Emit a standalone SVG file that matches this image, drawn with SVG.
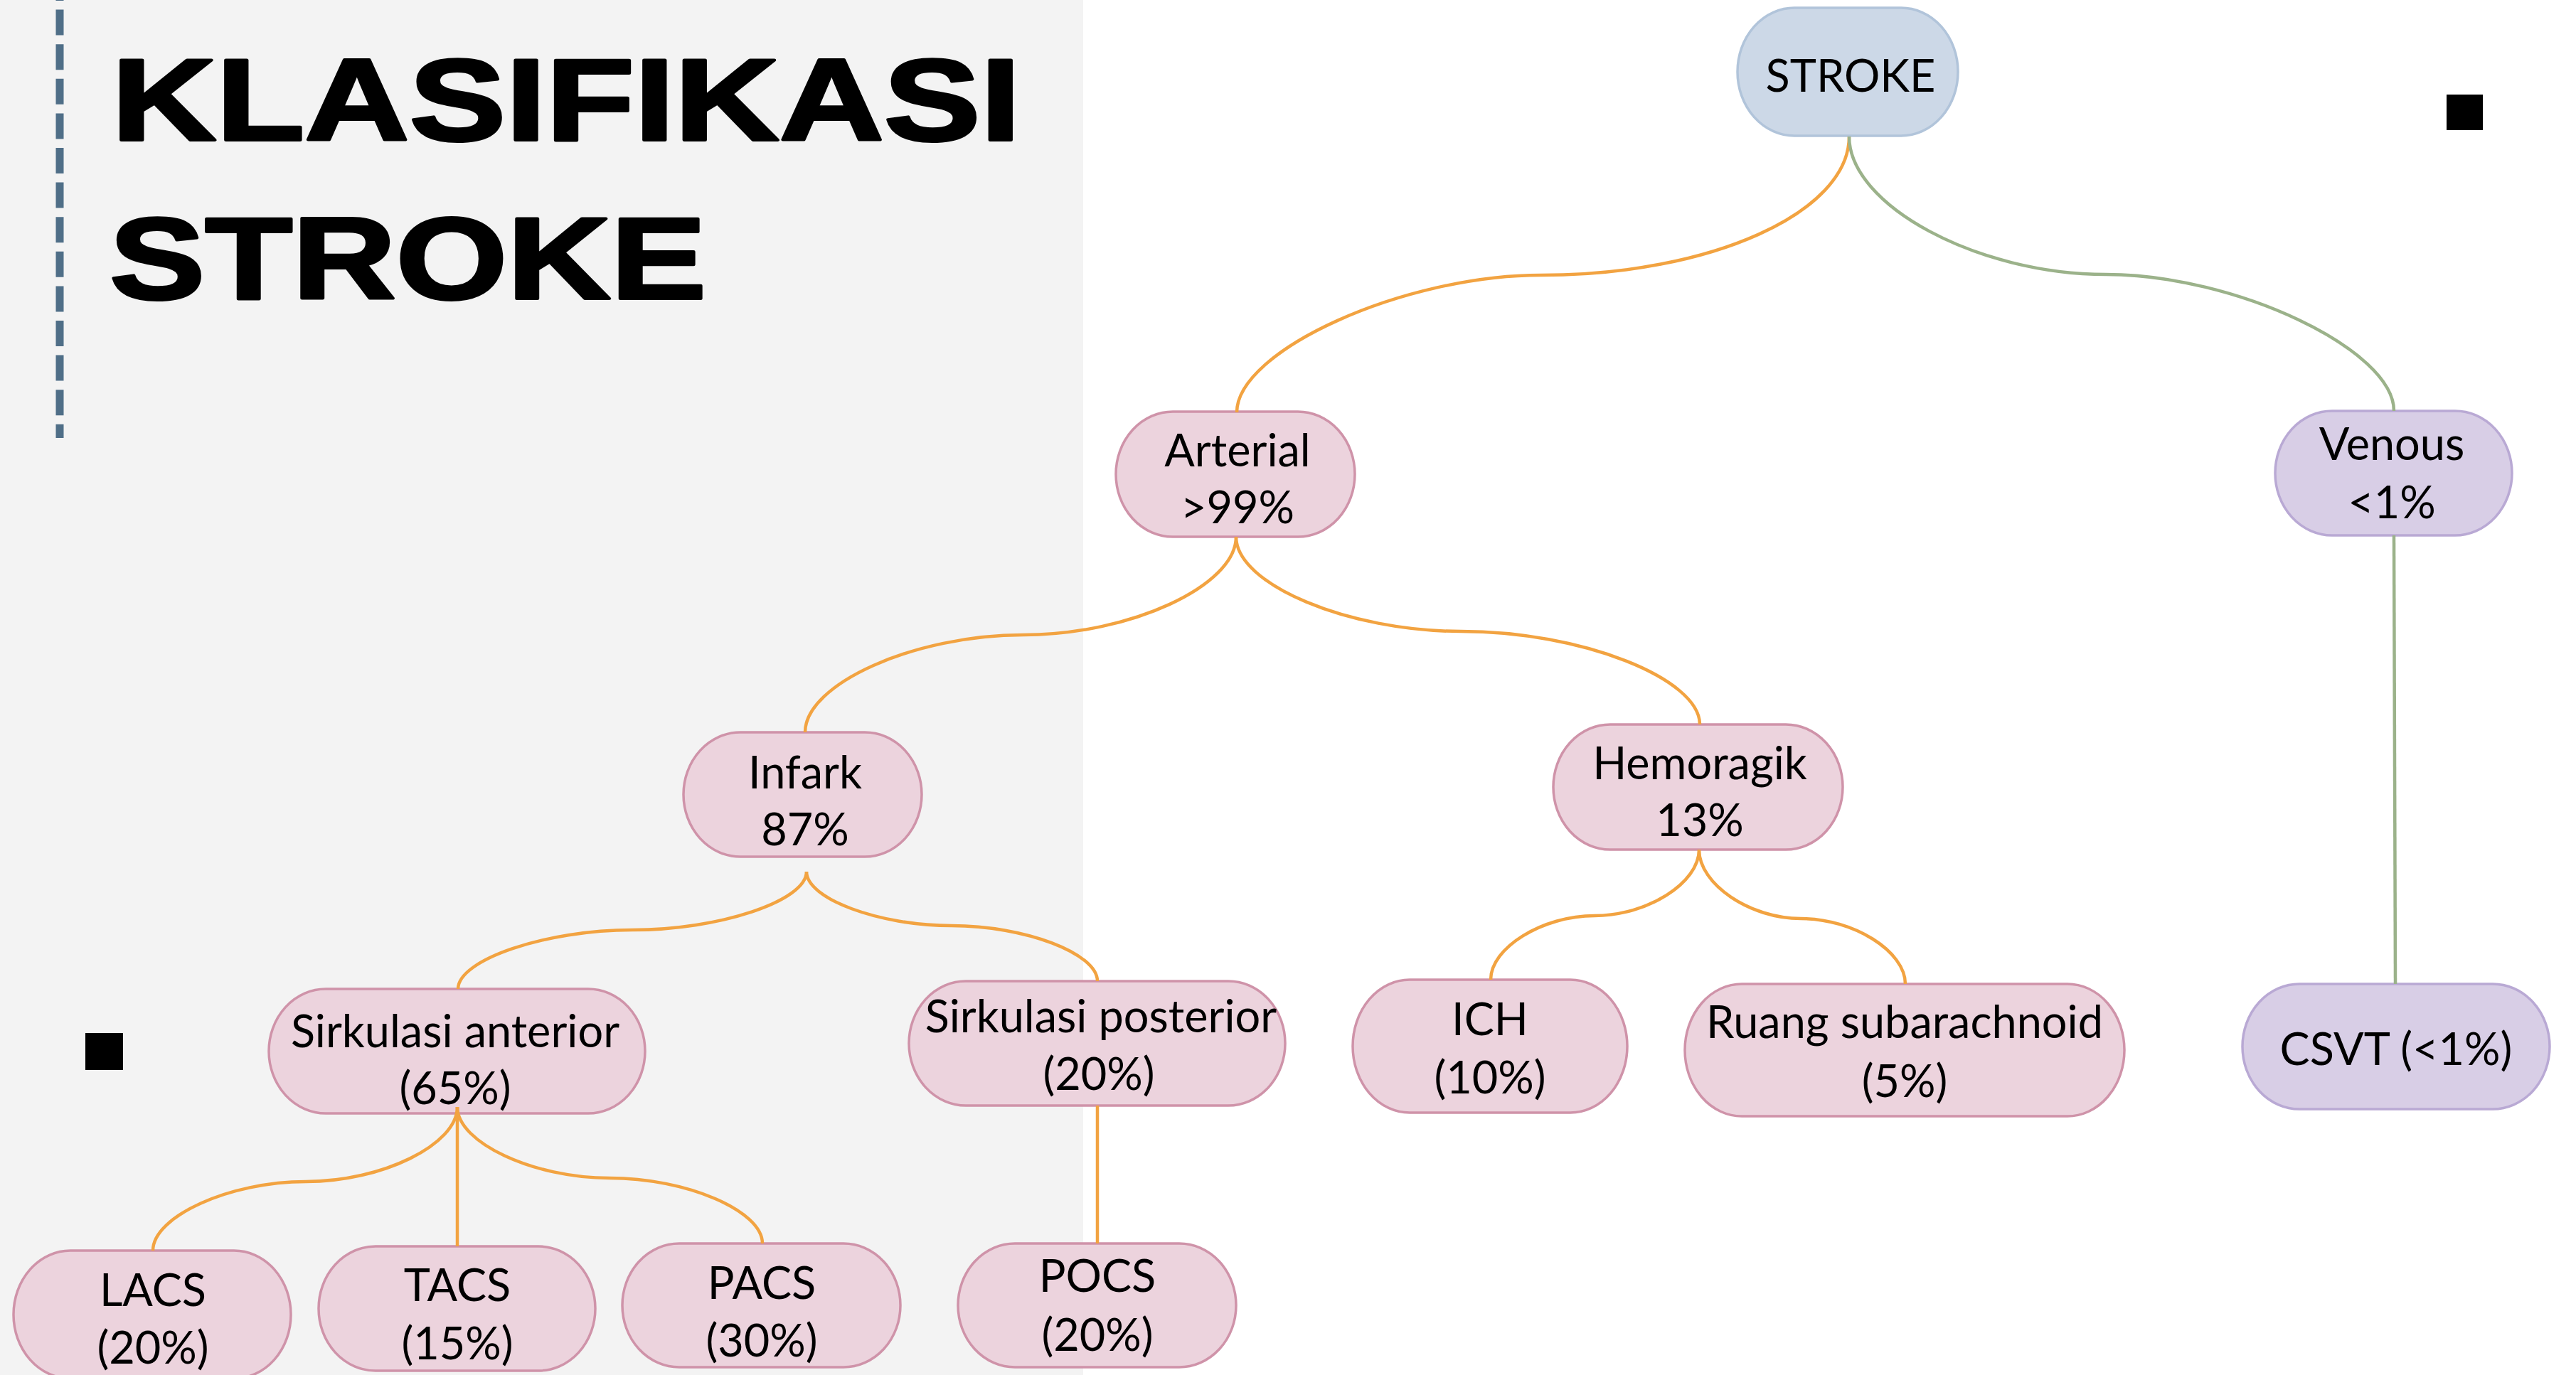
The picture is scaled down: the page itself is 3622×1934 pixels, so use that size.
<svg xmlns="http://www.w3.org/2000/svg" width="3622" height="1934" viewBox="0 0 3622 1934">
<style>
.title{font-family:"Liberation Sans",Arial,sans-serif;font-weight:700;font-size:163px;fill:#000;stroke:#000;stroke-width:4;stroke-linejoin:round}
.pink rect{fill:#ecd3dd;stroke:#cf93a9;stroke-width:3.5}
.purple rect{fill:#d8cee6;stroke:#b9a9d4;stroke-width:3.5}
.blue rect{fill:#ccd8e7;stroke:#b1c4da;stroke-width:3.5}
.node text{font-family:Lato,"Liberation Sans",sans-serif;font-size:63px;fill:#000;text-anchor:middle}
.conn path{fill:none;stroke-width:4.5}
.or{stroke:#f2a341}
.gr{stroke:#9bb28a}
.mark{fill:#000}
</style>
<rect x="0" y="0" width="3622" height="1934" fill="#ffffff"/>
<rect x="0" y="0" width="1523" height="1934" fill="#f3f3f3"/>
<line x1="84" y1="-35" x2="84" y2="616" stroke="#4f6e87" stroke-width="11" stroke-dasharray="36 12.6"/>
<text class="title" x="157" y="197" textLength="1278" lengthAdjust="spacingAndGlyphs">KLASIFIKASI</text>
<text class="title" x="154" y="420" textLength="839" lengthAdjust="spacingAndGlyphs">STROKE</text>
<rect class="mark" x="3440" y="133" width="51" height="50"/>
<rect class="mark" x="120" y="1453" width="53" height="52"/>

<g id="n-stroke" class="node blue"><rect x="2443" y="11" width="310" height="180" rx="80" ry="90"/><text x="2602" y="129" font-size="60">STROKE</text></g>
<g id="n-arterial" class="node pink"><rect x="1569" y="579" width="336" height="176" rx="80" ry="88"/><text x="1740" y="656">Arterial</text><text x="1740" y="736">&gt;99%</text></g>
<g id="n-venous" class="node purple"><rect x="3199" y="578" width="333" height="175" rx="80" ry="87.5"/><text x="3363" y="647">Venous</text><text x="3363" y="729">&lt;1%</text></g>
<g id="n-infark" class="node pink"><rect x="961" y="1030" width="335" height="175" rx="80" ry="87.5"/><text x="1132" y="1109">Infark</text><text x="1132" y="1189">87%</text></g>
<g id="n-hemoragik" class="node pink"><rect x="2184" y="1019" width="407" height="176" rx="80" ry="88"/><text x="2390" y="1096">Hemoragik</text><text x="2390" y="1176">13%</text></g>
<g id="n-sirk-ant" class="node pink"><rect x="378" y="1391" width="529" height="175" rx="80" ry="87.5"/><text x="640" y="1473">Sirkulasi anterior</text><text x="640" y="1553">(65%)</text></g>
<g id="n-sirk-post" class="node pink"><rect x="1278" y="1380" width="529" height="175" rx="80" ry="87.5"/><text x="1548" y="1452">Sirkulasi posterior</text><text x="1545" y="1533">(20%)</text></g>
<g id="n-ich" class="node pink"><rect x="1902" y="1378" width="386" height="187" rx="80" ry="93.5"/><text x="2095" y="1456">ICH</text><text x="2095" y="1538">(10%)</text></g>
<g id="n-ruang" class="node pink"><rect x="2369" y="1384" width="618" height="186" rx="80" ry="93"/><text x="2678" y="1460">Ruang subarachnoid</text><text x="2678" y="1543">(5%)</text></g>
<g id="n-csvt" class="node purple"><rect x="3153" y="1384" width="432" height="176" rx="80" ry="88"/><text x="3369" y="1498">CSVT (&lt;1%)</text></g>
<g id="n-lacs" class="node pink"><rect x="19" y="1759" width="390" height="180" rx="80" ry="90"/><text x="215" y="1837">LACS</text><text x="215" y="1918">(20%)</text></g>
<g id="n-tacs" class="node pink"><rect x="448" y="1753" width="389" height="175" rx="80" ry="87.5"/><text x="643" y="1830">TACS</text><text x="643" y="1912">(15%)</text></g>
<g id="n-pacs" class="node pink"><rect x="875" y="1749" width="391" height="174" rx="80" ry="87"/><text x="1071" y="1827">PACS</text><text x="1071" y="1908">(30%)</text></g>
<g id="n-pocs" class="node pink"><rect x="1347" y="1749" width="391" height="174" rx="80" ry="87"/><text x="1543" y="1817">POCS</text><text x="1543" y="1900">(20%)</text></g>

<g id="connectors" class="conn">
<path class="or" d="M2600,192 C2600,299 2405,387 2167,387 C1974,387 1739,493 1739,580"/>
<path class="gr" d="M2600,192 C2600,289 2781,386 2961,386 C3143,386 3366,492 3366,578"/>
<path class="or" d="M1738,755 C1738,824 1589,893 1439,893 C1286,893 1132,962 1132,1030"/>
<path class="or" d="M1738,755 C1738,822 1896,888 2054,888 C2222,888 2390,954 2390,1019"/>
<path class="or" d="M1134,1226 C1134,1267 1012,1308 889,1308 C767,1308 644,1350 644,1391"/>
<path class="or" d="M1134,1226 C1134,1264 1236,1302 1338,1302 C1441,1302 1543,1341 1543,1380"/>
<path class="or" d="M643,1557 C643,1610 537,1662 430,1662 C323,1662 215,1711 215,1759"/>
<path class="or" d="M643,1557 L643,1753"/>
<path class="or" d="M643,1557 C643,1607 750,1657 857,1657 C965,1657 1072,1703 1072,1749"/>
<path class="or" d="M1543,1555 L1543,1749"/>
<path class="or" d="M2389,1195 C2389,1242 2316,1288 2242,1288 C2169,1288 2096,1333 2096,1378"/>
<path class="or" d="M2389,1195 C2389,1244 2461,1292 2532,1292 C2606,1292 2679,1338 2679,1384"/>
<path class="gr" d="M3366,753 L3368,1384"/>
</g>
</svg>
